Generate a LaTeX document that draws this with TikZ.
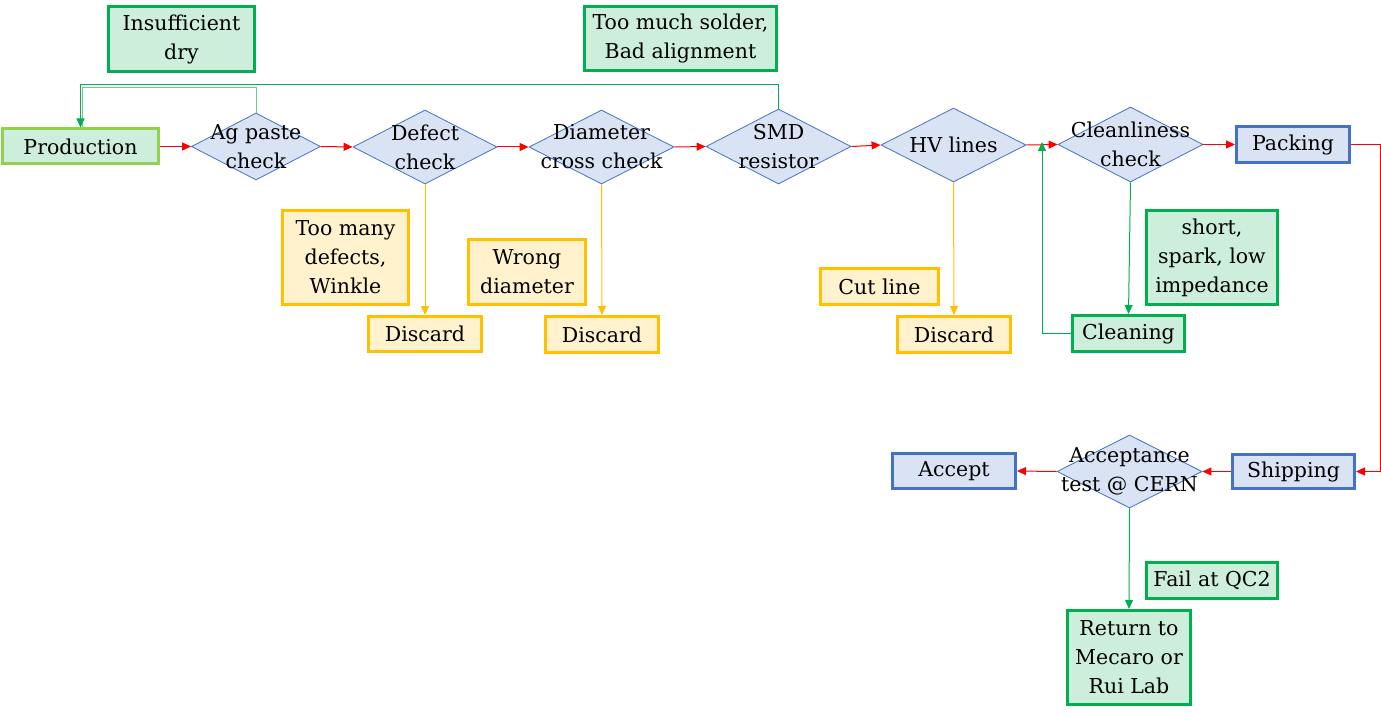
\documentclass[tikz,border=0pt]{standalone}
\usepackage{fontspec}
\setmainfont{DejaVu Serif}
\usetikzlibrary{shapes.geometric,arrows.meta}
\definecolor{gfill}{RGB}{204,238,218}
\definecolor{gdark}{RGB}{0,176,80}
\definecolor{gpale}{RGB}{110,205,150}
\definecolor{glight}{RGB}{146,208,80}
\definecolor{ofill}{RGB}{255,242,204}
\definecolor{oline}{RGB}{255,192,0}
\definecolor{bfill}{RGB}{218,227,243}
\definecolor{bline}{RGB}{68,114,196}
\definecolor{rline}{RGB}{255,0,0}
\tikzset{
  txt/.style={font=\fontsize{20.5}{29}\selectfont, align=center, text=black},
  gbox/.style={draw=gdark, fill=gfill, line width=3pt, inner sep=0pt, txt},
  pbox/.style={draw=glight, fill=gfill, line width=3pt, inner sep=0pt, txt},
  obox/.style={draw=oline, fill=ofill, line width=3pt, inner sep=0pt, txt},
  bbox/.style={draw=bline, fill=bfill, line width=3pt, inner sep=0pt, txt},
  dia/.style={diamond, draw=bline, fill=bfill, line width=0.8pt, inner sep=0pt},
  rarr/.style={draw=rline, line width=1pt, -{Triangle[length=9pt,width=8pt]}},
  garr/.style={draw=gdark, line width=1pt, -{Triangle[length=9pt,width=8pt]}},
  gline/.style={draw=gpale, line width=1pt},
  oarr/.style={draw=oline, line width=1pt, -{Triangle[length=9pt,width=8pt]}},
}
\begin{document}
\begin{tikzpicture}[x=1pt,y=-1pt]
\useasboundingbox (0,0) rectangle (1381,714);
% boxes
\node[pbox, minimum width=156, minimum height=35] (prod) at (80.5,146.5) {Production};
\node[gbox, minimum width=146, minimum height=65] (insuf) at (181.5,39) {Insufficient\\dry};
\node[gbox, minimum width=192, minimum height=64] (solder) at (680.5,38.5) {Too much solder,\\Bad alignment};
% diamonds
\node[dia, minimum width=129, minimum height=67] (ag) at (256,146.5) {};
\node[txt] at (ag) {Ag paste\\check};
\node[dia, minimum width=144, minimum height=74] (defect) at (425,147) {};
\node[txt] at (defect) {Defect\\check};
\node[dia, minimum width=145, minimum height=74] (diam) at (601.5,147) {};
\node[txt] at (diam) {Diameter\\cross check};
\node[dia, minimum width=145, minimum height=75] (smd) at (778.5,146.5) {};
\node[txt] at (smd) {SMD\\resistor};
\node[dia, minimum width=145, minimum height=74] (hv) at (953.5,145) {};
\node[txt] at (hv) {HV lines};
\node[dia, minimum width=145, minimum height=75] (clean) at (1130.5,144.5) {};
\node[txt] at (clean) {Cleanliness\\check};
\node[bbox, minimum width=113, minimum height=36] (pack) at (1293,144.5) {Packing};
\node[bbox, minimum width=122, minimum height=34] (ship) at (1293.5,471.5) {Shipping};
\node[dia, minimum width=145, minimum height=73] (acc) at (1129.5,471.5) {};
\node[txt] at (acc) {Acceptance\\test @ CERN};
\node[bbox, minimum width=123, minimum height=35] (accept) at (954,471) {Accept};
\node[gbox, minimum width=123, minimum height=94] (ret) at (1129,657.5) {Return to\\Mecaro or\\Rui Lab};
\node[gbox, minimum width=131, minimum height=36] (fail) at (1212,580.5) {Fail at QC2};
\node[gbox, minimum width=131, minimum height=94] (short) at (1212,257.5) {short,\\spark, low\\impedance};
\node[gbox, minimum width=112, minimum height=36] (cleaning) at (1128.5,333.5) {Cleaning};
\node[obox, minimum width=126, minimum height=94] (toomany) at (345.5,257.5) {Too many\\defects,\\Winkle};
\node[obox, minimum width=117, minimum height=65] (wrong) at (527,272) {Wrong\\diameter};
\node[obox, minimum width=113, minimum height=35] (disc1) at (425,334) {Discard};
\node[obox, minimum width=113, minimum height=36] (disc2) at (602,334.5) {Discard};
\node[obox, minimum width=118, minimum height=36] (cut) at (879.5,286.5) {Cut line};
\node[obox, minimum width=113, minimum height=36] (disc3) at (954,334.5) {Discard};
% coordinates
\coordinate (cj) at (1042,145);
\coordinate (pr) at (1380,144.5);
% main flow
\draw[rarr] (prod.east) -- (ag.west);
\draw[rarr] (ag.east) -- (defect.west);
\draw[rarr] (defect.east) -- (diam.west);
\draw[rarr] (diam.east) -- (smd.west);
\draw[rarr] (smd.east) -- (hv.west);
\draw[rarr] (hv.east) -- (clean.west);
\draw[rarr] (clean.east) -- (pack.west);
\draw[rarr] (pack.east) -- (pr) |- (ship.east);
\draw[rarr] (ship.west) -- (acc.east);
\draw[rarr] (acc.west) -- (accept.east);
% discards
\draw[oarr] (defect.south) -- (disc1.north);
\draw[oarr] (diam.south) -- (disc2.north);
\draw[oarr] (hv.south) -- (disc3.north);
% green loops
\draw[gline] (ag.north) -- ++(0,-25) -| ([xshift=2pt]prod.north);
\draw[garr] (smd.north) -- ++(0,-24) -| (prod.north);
\draw[garr] (clean.south) -- (cleaning.north);
\draw[garr] (cleaning.west) -| ([yshift=3pt]cj);
\draw[garr] (acc.south) -- (ret.north);
\end{tikzpicture}
\end{document}
